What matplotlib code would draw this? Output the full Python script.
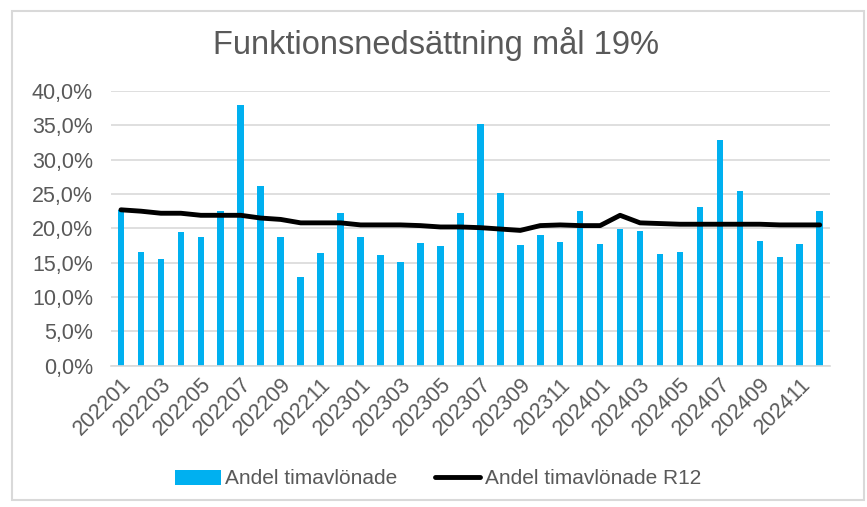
import matplotlib.pyplot as plt
from matplotlib.patches import Rectangle
from matplotlib.ticker import FuncFormatter

plt.rcParams['font.family'] = ['Liberation Sans', 'DejaVu Sans']

# months 202201..202412
months = [f"{y}{m:02d}" for y in (2022, 2023, 2024) for m in range(1, 13)]

# Andel timavlönade (monthly share)
andel = [22.6, 16.6, 15.6, 19.5, 18.7, 22.5, 38.0, 26.1, 18.7, 12.9, 16.4, 22.3,
         18.7, 16.1, 15.1, 17.9, 17.4, 22.2, 35.2, 25.1, 17.6, 19.0, 18.0, 22.5,
         17.7, 19.9, 19.6, 16.3, 16.6, 23.1, 32.8, 25.4, 18.1, 15.8, 17.7, 22.5]

# Andel timavlönade R12 (rolling 12 months)
andel_r12 = [22.7, 22.5, 22.2, 22.2, 21.9, 21.9, 21.9, 21.5, 21.3, 20.8, 20.8, 20.8,
             20.5, 20.5, 20.5, 20.4, 20.2, 20.2, 20.1, 19.9, 19.7, 20.4, 20.5, 20.4,
             20.4, 21.9, 20.8, 20.7, 20.6, 20.6, 20.6, 20.6, 20.6, 20.5, 20.5, 20.5]

grey = '#595959'
fig = plt.figure(figsize=(8.67, 5.07), dpi=100)
fig.patches.append(Rectangle((12 / 867, 1 - 500 / 507), 852 / 867, 489 / 507,
                             transform=fig.transFigure, fill=False,
                             edgecolor='#d9d9d9', linewidth=1.5))
ax = fig.add_axes([0.128, 0.2787, 0.829, 0.5418])

x = list(range(len(months)))
bars = ax.bar(x, [v / 100 for v in andel], width=0.33, color='#00b0f0',
              label='Andel timavlönade', zorder=2)
line, = ax.plot(x, [v / 100 for v in andel_r12], color='black', linewidth=3.5,
                label='Andel timavlönade R12', zorder=3, solid_capstyle='round')

ax.set_xlim(-0.5, len(months) - 0.5)
ax.set_ylim(0, 0.40)
ax.set_yticks([i * 0.05 for i in range(9)])
ax.yaxis.set_major_formatter(FuncFormatter(lambda v, p: f"{v * 100:.1f}%".replace('.', ',')))
ax.grid(axis='y', color='#d9d9d9', linewidth=1.2, zorder=0)
ax.set_axisbelow(True)
for s in ('top', 'right', 'left'):
    ax.spines[s].set_visible(False)
ax.spines['bottom'].set_color('#d9d9d9')
ax.spines['bottom'].set_linewidth(1.2)

ax.set_xticks(x[::2])
ax.set_xticklabels(months[::2], rotation=45, ha='right', rotation_mode='anchor')
ax.tick_params(axis='both', length=0, labelsize=15.5, colors=grey)
ax.tick_params(axis='y', pad=13)
ax.tick_params(axis='x', pad=6)

fig.text(0.503, 1 - 44 / 507, 'Funktionsnedsättning mål 19%', ha='center', va='center',
         fontsize=23.5, color=grey)

leg = fig.legend([bars, line], ['Andel timavlönade', 'Andel timavlönade R12'],
                 loc='center', bbox_to_anchor=(0.505, 1 - 479 / 507), ncol=2,
                 frameon=False, fontsize=15, handlelength=2.2, columnspacing=1.8,
                 handletextpad=0.2)
for t in leg.get_texts():
    t.set_color(grey)

fig.savefig('out.png', dpi=100)
